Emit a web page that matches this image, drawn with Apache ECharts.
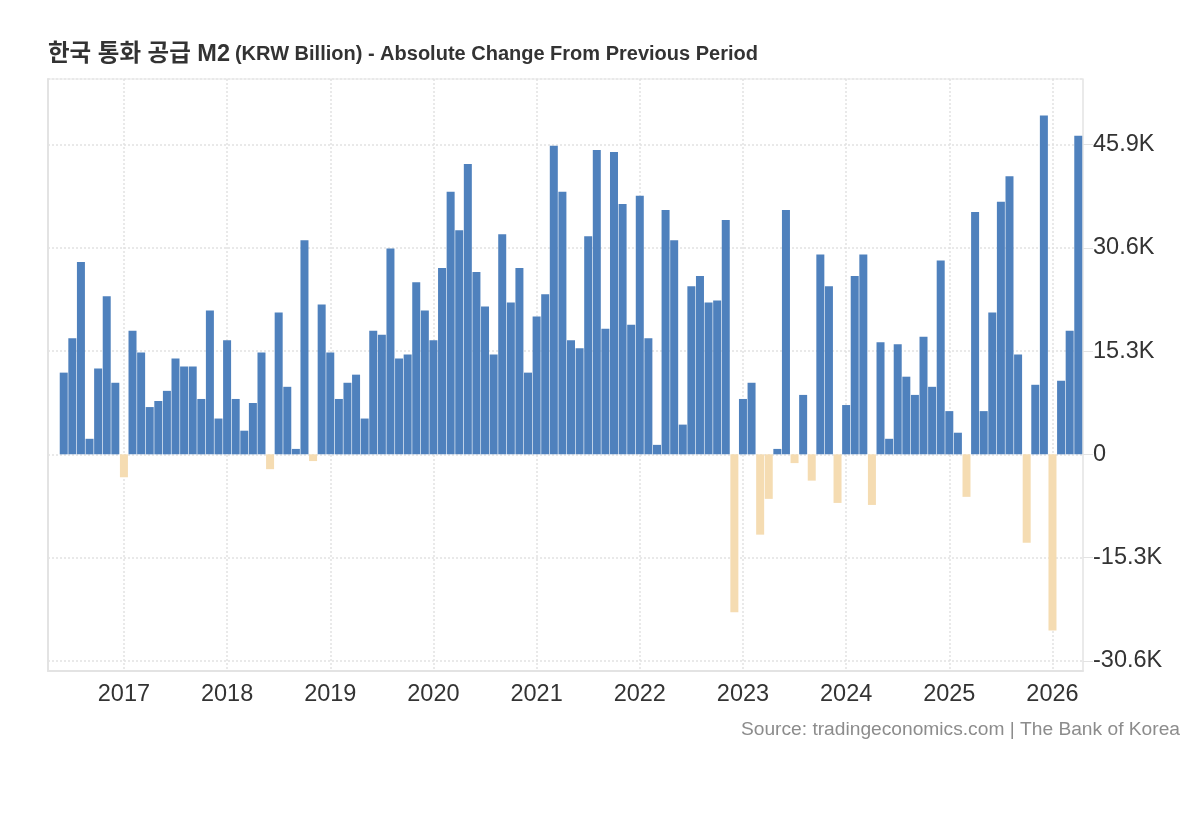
<!DOCTYPE html>
<html>
<head>
<meta charset="utf-8">
<script src="https://cdn.jsdelivr.net/npm/echarts@6/dist/echarts.min.js"></script>
<style>html,body{margin:0;padding:0;background:#fff}#c{width:1200px;height:820px}</style>
</head>
<body>
<div id="c"></div>
<script>
// Monthly categories
const months = [
  '2016-06','2016-07','2016-08','2016-09','2016-10','2016-11','2016-12',
  '2017-01','2017-02','2017-03','2017-04','2017-05','2017-06','2017-07','2017-08','2017-09','2017-10','2017-11','2017-12',
  '2018-01','2018-02','2018-03','2018-04','2018-05','2018-06','2018-07','2018-08','2018-09','2018-10','2018-11','2018-12',
  '2019-01','2019-02','2019-03','2019-04','2019-05','2019-06','2019-07','2019-08','2019-09','2019-10','2019-11','2019-12',
  '2020-01','2020-02','2020-03','2020-04','2020-05','2020-06','2020-07','2020-08','2020-09','2020-10','2020-11','2020-12',
  '2021-01','2021-02','2021-03','2021-04','2021-05','2021-06','2021-07','2021-08','2021-09','2021-10','2021-11','2021-12',
  '2022-01','2022-02','2022-03','2022-04','2022-05','2022-06','2022-07','2022-08','2022-09','2022-10','2022-11','2022-12',
  '2023-01','2023-02','2023-03','2023-04','2023-05','2023-06','2023-07','2023-08','2023-09','2023-10','2023-11','2023-12',
  '2024-01','2024-02','2024-03','2024-04','2024-05','2024-06','2024-07','2024-08','2024-09','2024-10','2024-11','2024-12',
  '2025-01','2025-02','2025-03','2025-04','2025-05','2025-06','2025-07','2025-08','2025-09','2025-10','2025-11','2025-12',
  '2026-01','2026-02','2026-03','2026-04'
];
// Absolute change from previous period (KRW Billion)
const changes = [
  12100,17200,28500,2300,12700,23400,10600,
  -3400,18300,15100,7000,7900,9400,14200,13000,13000,8200,21300,5300,
  16900,8200,3500,7600,15100,-2200,21000,10000,800,31700,-1000,22200,
  15100,8200,10600,11800,5300,18300,17700,30500,14200,14800,25500,21300,
  16900,27600,38900,33200,43000,27000,21900,14800,32600,22500,27600,12100,
  20400,23700,45700,38900,16900,15700,32300,45100,18600,44800,37100,19200,
  38300,17200,1400,36200,31700,4400,24900,26400,22500,22800,34700,-23400,
  8200,10600,-11900,-6600,800,36200,-1300,8800,-3900,29600,24900,-7200,
  7300,26400,29600,-7500,16600,2300,16300,11500,8800,17400,10000,28700,
  6400,3200,-6300,35900,6400,21000,37400,41200,14800,-13100,10300,50200,
  -26100,10900,18300,47200
];
const yTicks = [-30600, -15300, 0, 15300, 30600, 45900];
const yTickLabels = ['-30.6K', '-15.3K', '0', '15.3K', '30.6K', '45.9K'];
const yearLabels = ['2017','2018','2019','2020','2021','2022','2023','2024','2025','2026'];

const yearPos = yearLabels.map(y => months.indexOf(y + '-01'));
const font = '"Liberation Sans", Arial, Helvetica, "Noto Sans CJK KR", sans-serif';
const grid = { color: '#e2e2e2', width: 1.5, type: [2, 2] };

const chart = echarts.init(document.getElementById('c'));
chart.setOption({
  animation: false,
  textStyle: { fontFamily: font },
  title: [
    {
      left: 48, top: 43, padding: 0,
      text: '{a|한국 통화 공급 M2} {b|(KRW Billion) - Absolute Change From Previous Period}',
      textStyle: {
        rich: {
          a: { fontSize: 23.5, fontWeight: 'bold', color: '#333', fontFamily: font },
          b: { fontSize: 20, fontWeight: 'bold', color: '#333', fontFamily: font }
        }
      }
    },
    {
      right: 20, top: 720, padding: 0,
      text: 'Source: tradingeconomics.com | The Bank of Korea',
      textStyle: { fontSize: 19.2, fontWeight: 'normal', color: '#8c8c8c', fontFamily: font }
    }
  ],
  grid: { left: 48, right: 117, top: 79, bottom: 149 },
  xAxis: [
    {
      type: 'value', min: -1.83, max: 118.55,
      axisLine: { show: true, onZero: false, lineStyle: { color: '#e3e3e3', width: 2 } },
      axisTick: { show: false, customValues: yearPos },
      axisLabel: {
        customValues: yearPos,
        formatter: v => yearLabels[yearPos.indexOf(Math.round(v))],
        fontSize: 23.5, color: '#333', margin: 12, fontFamily: font
      },
      splitLine: { show: true, lineStyle: grid }
    },
    {
      type: 'value', position: 'top', min: -1.83, max: 118.55,
      axisLine: { show: true, onZero: false, lineStyle: grid },
      axisTick: { show: false }, axisLabel: { show: false }, splitLine: { show: false }
    }
  ],
  yAxis: [
    {
      type: 'value', position: 'right', min: -32100, max: 55600,
      axisLine: { show: true, onZero: false, lineStyle: { color: '#e3e3e3', width: 1.5 } },
      axisTick: { show: true, length: 10, customValues: yTicks, lineStyle: { color: '#e3e3e3' } },
      axisLabel: {
        customValues: yTicks,
        formatter: v => yTickLabels[yTicks.indexOf(v)],
        fontSize: 23.5, color: '#333', margin: 10, fontFamily: font
      },
      splitLine: { show: true, lineStyle: grid }
    },
    {
      type: 'value', position: 'left', min: -32100, max: 55600,
      axisLine: { show: true, onZero: false, lineStyle: { color: '#e3e3e3', width: 2 } },
      axisTick: { show: false }, axisLabel: { show: false }, splitLine: { show: false }
    }
  ],
  series: [
    {
      type: 'bar',
      xAxisIndex: 0, yAxisIndex: 0,
      barWidth: 8,
      data: changes.map((v, i) => [i, v]),
      itemStyle: { color: p => (p.value[1] < 0 ? '#f5dcb2' : '#4f81bd') }
    }
  ]
});
</script>
</body>
</html>
